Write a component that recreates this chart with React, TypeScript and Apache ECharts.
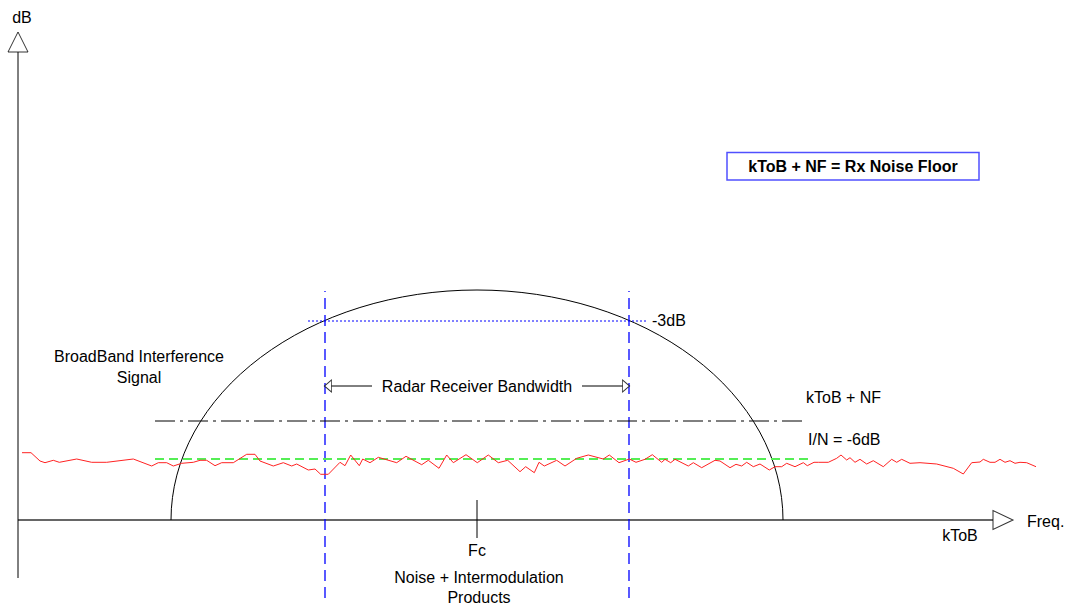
import React, { useEffect, useRef } from "react";
import * as echarts from "echarts";

// ---- coordinate frame: x = frequency (arbitrary units), y = level above kToB (arbitrary dB units)
const X_MIN = 0;
const X_MAX = 1069;
const Y_MIN = -85;
const Y_MAX = 520;

// ---- red noise trace (frequency, level)
const noiseFreq = [
  22, 31, 40, 45, 53.3, 59.3, 76.7, 91.7, 106.7, 133.3, 151.7, 158.3, 166.7, 173.3, 181.7, 193.3, 200, 206.7,
  215, 221.7, 233.3, 246.7, 255, 260, 273.3, 283.3, 291.7, 296.7, 308.3, 315, 320.7, 328.3, 340, 345, 350.7,
  359.3, 362.7, 370, 378.3, 396.7, 406, 421.7, 428.3, 439, 446.7, 453.3, 466, 477.3, 488.3, 498.3, 507.7, 520,
  525.7, 534.3, 539, 544.3, 556.7, 565, 576.7, 588.3, 603.3, 609.3, 619, 629.3, 636, 645, 652.3, 661.7, 665,
  670.7, 675, 688.3, 693.3, 701.7, 715, 720, 730, 736, 741.7, 746.7, 753.3, 760, 769.3, 775, 781.7, 786.7, 795,
  803.3, 807.3, 814, 818.3, 828.3, 836.7, 841, 846.7, 850, 855, 860, 866.7, 873.3, 883.3, 891.7, 896.7, 901.7,
  910, 920, 936.7, 953.3, 963.3, 971.7, 980, 983.3, 990, 995, 1000, 1005, 1010, 1015, 1020, 1026.7, 1036,
];
const noiseLevel = [
  67.3, 67.3, 59, 57.3, 59.7, 57.7, 61, 57.7, 57.7, 61, 54, 57.3, 57.3, 54, 56.7, 57.7, 59.7, 59.7,
  54.3, 57.3, 57.3, 65.7, 65.7, 59, 54, 57.3, 54, 56, 50, 51, 45.7, 45.7, 57.7, 54.3, 65,
  54.3, 61, 57.3, 62.7, 57.3, 63.7, 55.3, 59.7, 51.7, 65, 57.3, 65.3, 57.3, 65, 57.3, 59.7, 48.3,
  53.3, 47.3, 57.7, 54, 59.7, 54, 61.7, 65, 61, 65, 57.3, 61, 57.7, 60.7, 65.3, 57.7, 60.7,
  57.3, 60.7, 54, 57.3, 52.3, 59.7, 59, 52.3, 55.7, 54, 57.7, 53.3, 56, 50, 53.3, 53.3, 56.7, 53.3,
  57.3, 54.3, 57.7, 57.7, 57.7, 61.7, 65, 60, 62.3, 57.7, 60.7, 56, 59.3, 53.3, 60.7, 57.7, 60.7,
  56.7, 57.3, 56, 51.7, 46, 57.3, 58, 60.7, 57.7, 57.7, 60.7, 57.7, 59.3, 56.7, 57.7, 57.3, 53.3,
];

// ---- broadband interference envelope: [left base, right base, peak level]
const envelope = [171, 783, 230];
const fcFreq = 477;
const fcTickLevels = [20, -18];
const rxEdges = [325, 629];
const rxEdgeLevels = [-78, 229];
const minus3dBLevel = 199;
const minus3dBSpan = [308, 647];
const kTobNfLevel = 99;
const kTobNfSpan = [155, 803];
const inLevel = 61;
const inSpan = [155, 808];
const bwArrowLevel = 134;
const bwArrowLeft = [331, 372];
const bwArrowRight = [582, 623];
const yAxisFreq = 18;
const yAxisLevels = [-58, 468];
const xAxisSpan = [18, 993];

const FONT = "'Liberation Sans', Arial, Helvetica, sans-serif";

export default function App() {
  const ref = useRef<HTMLDivElement>(null);
  useEffect(() => {
    if (!ref.current) return;
    const chart = echarts.init(ref.current, null, { renderer: "svg" });

    const seg = (pts: number[][], color: string, width: number, type: any, z = 2) => ({
      type: "line",
      data: pts,
      symbol: "none",
      silent: true,
      z,
      lineStyle: { color, width, type },
    });

    const txt = (text: string, x: number, y: number, align = "center", weight = "normal") => ({
      type: "text",
      x,
      y,
      z: 100,
      silent: true,
      style: {
        text,
        fontSize: 16,
        fontFamily: FONT,
        fontWeight: weight,
        fill: "#000",
        align,
        verticalAlign: "middle",
      },
    });

    const option: any = {
      animation: false,
      grid: { left: 0, right: 0, top: 0, bottom: 0 },
      xAxis: { type: "value", min: X_MIN, max: X_MAX, show: false },
      yAxis: { type: "value", min: Y_MIN, max: Y_MAX, show: false },
      series: [
        // axes
        seg([[xAxisSpan[0], 0], [xAxisSpan[1], 0]], "#666", 2, "solid", 3),
        seg([[yAxisFreq, yAxisLevels[0]], [yAxisFreq, yAxisLevels[1]]], "#000", 1, "solid", 3),
        // interference envelope
        {
          type: "custom",
          silent: true,
          z: 4,
          data: [envelope],
          renderItem: (params: any, api: any) => {
            const l = api.coord([api.value(0), 0]);
            const r = api.coord([api.value(1), 0]);
            const t = api.coord([(api.value(0) + api.value(1)) / 2, api.value(2)]);
            const rx = (r[0] - l[0]) / 2;
            const ry = l[1] - t[1];
            return {
              type: "path",
              shape: { pathData: `M${l[0]} ${l[1]} A${rx} ${ry} 0 0 1 ${r[0]} ${r[1]}` },
              style: { stroke: "#000", fill: "none", lineWidth: 1 },
            };
          },
        },
        // receiver band edges
        seg([[rxEdges[0], rxEdgeLevels[0]], [rxEdges[0], rxEdgeLevels[1]]], "#0000ff", 1.3, [11, 6], 5),
        seg([[rxEdges[1], rxEdgeLevels[0]], [rxEdges[1], rxEdgeLevels[1]]], "#0000ff", 1.3, [11, 6], 5),
        // -3dB
        seg([[minus3dBSpan[0], minus3dBLevel], [minus3dBSpan[1], minus3dBLevel]], "#0000ff", 1, [2, 2], 5),
        // kToB + NF
        seg([[kTobNfSpan[0], kTobNfLevel], [kTobNfSpan[1], kTobNfLevel]], "#000", 1, [20, 5, 3, 5], 5),
        // I/N = -6dB
        seg([[inSpan[0], inLevel], [inSpan[1], inLevel]], "#55ee55", 2, [9, 5], 5),
        // noise
        seg(noiseFreq.map((f, i) => [f, noiseLevel[i]]), "#ff2222", 1, "solid", 6),
        // bandwidth arrow shafts
        seg([[bwArrowLeft[0], bwArrowLevel], [bwArrowLeft[1], bwArrowLevel]], "#000", 1, "solid", 5),
        seg([[bwArrowRight[0], bwArrowLevel], [bwArrowRight[1], bwArrowLevel]], "#000", 1, "solid", 5),
        // Fc tick
        seg([[fcFreq, fcTickLevels[0]], [fcFreq, fcTickLevels[1]]], "#000", 1, "solid", 5),
        // arrow heads (hollow triangles)
        {
          type: "scatter",
          silent: true,
          z: 10,
          symbol: "triangle",
          itemStyle: { color: "#fff", borderColor: "#000", borderWidth: 1 },
          data: [
            { value: [yAxisFreq, yAxisLevels[1] + 10], symbolSize: [20, 20], symbolRotate: 0 },
            { value: [xAxisSpan[1] + 10, 0], symbolSize: [19, 20], symbolRotate: -90 },
            { value: [bwArrowLeft[0] - 3, bwArrowLevel], symbolSize: [12, 7], symbolRotate: 90 },
            { value: [bwArrowRight[1] + 3, bwArrowLevel], symbolSize: [12, 7], symbolRotate: -90 },
          ],
        },
      ],
      graphic: [
        {
          type: "rect",
          z: 90,
          silent: true,
          shape: { x: 727, y: 152.5, width: 252, height: 27.5 },
          style: { fill: "#fff", stroke: "#5050ff", lineWidth: 1.5 },
        },
        txt("kToB + NF = Rx Noise Floor", 853, 166.5, "center", "bold"),
        txt("dB", 22, 17),
        txt("Freq.", 1027, 521, "left"),
        txt("kToB", 960, 535),
        txt("-3dB", 652, 320, "left"),
        txt("Radar Receiver Bandwidth", 477, 386),
        txt("BroadBand Interference", 139, 356),
        txt("Signal", 139, 377),
        txt("kToB + NF", 806, 397, "left"),
        txt("I/N = -6dB", 808, 439, "left"),
        txt("Fc", 477, 550),
        txt("Noise + Intermodulation", 479, 577),
        txt("Products", 479, 597),
      ],
    };
    chart.setOption(option);
    return () => chart.dispose();
  }, []);
  return (
    <div
      ref={ref}
      style={{ position: "absolute", left: 0, top: 0, width: 1069, height: 605, background: "#fff" }}
    />
  );
}
